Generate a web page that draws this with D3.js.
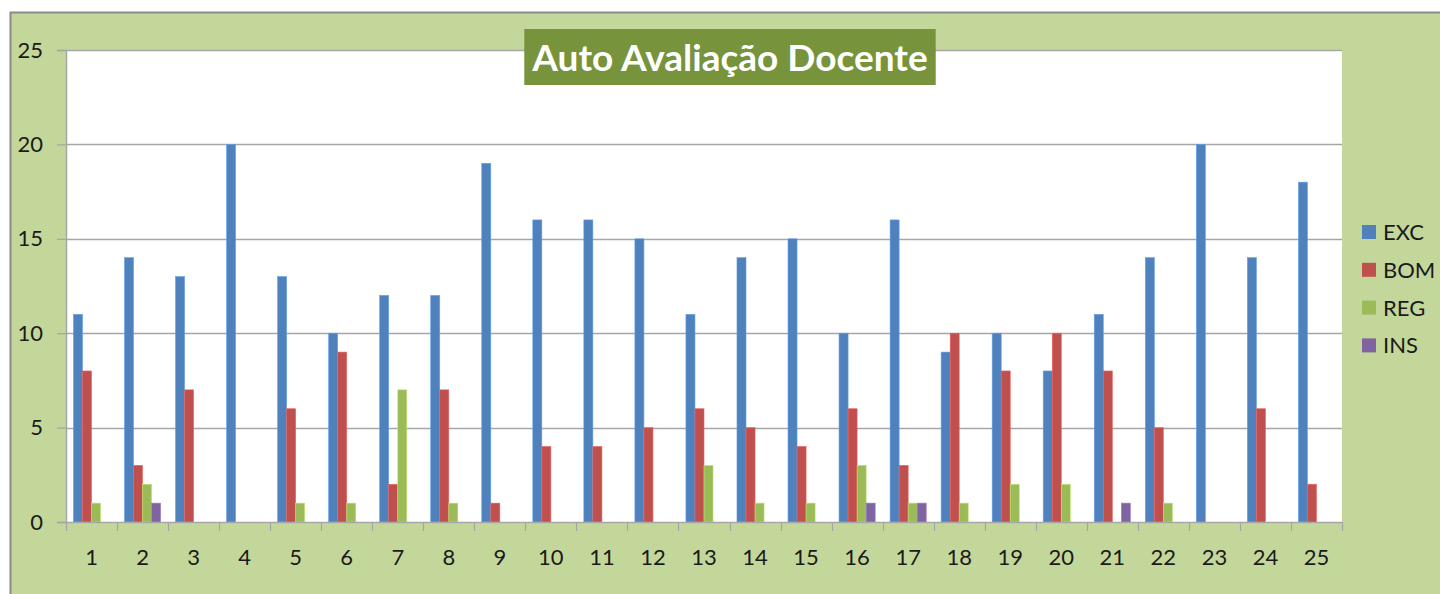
<!DOCTYPE html>
<html>
<head>
<meta charset="utf-8">
<script src="https://cdn.jsdelivr.net/npm/d3@7"></script>
<style>
  html, body { margin: 0; padding: 0; background: #fff; }
  svg { display: block; font-family: Lato, "Open Sans", sans-serif; }
</style>
</head>
<body>
<svg id="chart" width="1440" height="594"></svg>
<script>
// categories and series
const categories = d3.range(1, 26).map(String);
const seriesNames = ['EXC', 'BOM', 'REG', 'INS'];
const exc = [11, 14, 13, 20, 13, 10, 12, 12, 19, 16, 16, 15, 11, 14, 15, 10, 16, 9, 10, 8, 11, 14, 20, 14, 18];
const bom = [8, 3, 7, 0, 6, 9, 2, 7, 1, 4, 4, 5, 6, 5, 4, 6, 3, 10, 8, 10, 8, 5, 0, 6, 2];
const reg = [1, 2, 0, 0, 1, 1, 7, 1, 0, 0, 0, 0, 3, 1, 1, 3, 1, 1, 2, 2, 0, 1, 0, 0, 0];
const ins = [0, 1, 0, 0, 0, 0, 0, 0, 0, 0, 0, 0, 0, 0, 0, 1, 1, 0, 0, 0, 1, 0, 0, 0, 0];
const yTicks = [0, 5, 10, 15, 20, 25];
const title = 'Auto Avaliação Docente';

const colors = ['#4f81bd', '#c0504d', '#9bbb59', '#8064a2'];
const seriesValues = [exc, bom, reg, ins];

const svg = d3.select('#chart');
const plot = { left: 66, top: 50, right: 1342, bottom: 522 };
const labelFont = 22;

// outer chart area
svg.append('rect')
  .attr('x', 10.5).attr('y', 12.5)
  .attr('width', 1440).attr('height', 600)
  .attr('fill', '#c4d79b')
  .attr('stroke', '#8a8a8a').attr('stroke-width', 2);

svg.append('rect')
  .attr('x', plot.left).attr('y', plot.top)
  .attr('width', plot.right - plot.left).attr('height', plot.bottom - plot.top)
  .attr('fill', '#fff');

const x = d3.scaleBand()
  .domain(categories)
  .range([plot.left, plot.right]);

// 4 bars in each group, gap of about 1.6 bar widths
const gapRatio = 1.65;
const barW = x.bandwidth() / (seriesNames.length + gapRatio);
const xs = d3.scaleBand()
  .domain(seriesNames)
  .range([barW * gapRatio / 2, barW * gapRatio / 2 + barW * seriesNames.length]);

const y = d3.scaleLinear()
  .domain([0, 25])
  .range([plot.bottom, plot.top]);

// gridlines
svg.append('g')
  .selectAll('line')
  .data(yTicks.filter(d => d > 0))
  .join('line')
  .attr('x1', plot.left).attr('x2', plot.right)
  .attr('y1', d => Math.round(y(d)) + 0.5).attr('y2', d => Math.round(y(d)) + 0.5)
  .attr('stroke', '#a6a6a6').attr('stroke-width', 1.3);

// bars
const rows = categories.map((c, i) => ({
  cat: c,
  vals: seriesNames.map((s, j) => ({ s, j, v: seriesValues[j][i] }))
}));

svg.append('g')
  .selectAll('g')
  .data(rows)
  .join('g')
  .attr('transform', d => `translate(${x(d.cat)},0)`)
  .selectAll('rect')
  .data(d => d.vals.filter(v => v.v > 0))
  .join('rect')
  .attr('x', d => xs(d.s))
  .attr('width', xs.bandwidth())
  .attr('y', d => y(d.v))
  .attr('height', d => y(0) - y(d.v))
  .attr('fill', d => colors[d.j])
  .attr('stroke', d => d3.color(colors[d.j]).brighter(0.6))
  .attr('stroke-width', 0.6);

// y axis
const yAxis = d3.axisLeft(y)
  .tickValues(yTicks)
  .tickSize(9)
  .tickPadding(14);

const yg = svg.append('g')
  .attr('transform', `translate(${plot.left},0)`)
  .call(yAxis);
yg.select('.domain').attr('stroke', '#a6a6a6').attr('stroke-width', 1.5);
yg.selectAll('.tick line').attr('stroke', '#a6a6a6').attr('stroke-width', 1.3);
yg.selectAll('.tick text')
  .attr('font-size', labelFont)
  .attr('fill', '#1a1a1a')
  .attr('font-family', 'Lato, "Open Sans", sans-serif');

// x axis
const xAxis = d3.axisBottom(x).tickSize(0).tickPadding(27);
const xg = svg.append('g')
  .attr('transform', `translate(0,${plot.bottom})`)
  .call(xAxis);
xg.select('.domain').attr('stroke', '#a6a6a6').attr('stroke-width', 1.5);
xg.selectAll('.tick text')
  .attr('font-size', labelFont)
  .attr('fill', '#1a1a1a')
  .attr('font-family', 'Lato, "Open Sans", sans-serif');

// category boundary ticks
xg.append('g')
  .selectAll('line')
  .data(categories.concat(['end']))
  .join('line')
  .attr('x1', d => Math.round(d === 'end' ? plot.right : x(d)) + 0.5)
  .attr('x2', d => Math.round(d === 'end' ? plot.right : x(d)) + 0.5)
  .attr('y1', 0).attr('y2', 9)
  .attr('stroke', '#a6a6a6').attr('stroke-width', 1.3);

// title
const titleBox = { cx: 730, top: 29, h: 56 };
const titleG = svg.append('g');
const titleRect = titleG.append('rect')
  .attr('y', titleBox.top)
  .attr('height', titleBox.h)
  .attr('fill', '#77933c');
const titleText = titleG.append('text')
  .attr('x', titleBox.cx).attr('y', titleBox.top + 42)
  .attr('text-anchor', 'middle')
  .attr('font-size', 37).attr('font-weight', 'bold')
  .attr('fill', '#fff')
  .text(title);
const tw = titleText.node().getComputedTextLength();
titleRect
  .attr('x', titleBox.cx - tw / 2 - 8)
  .attr('width', tw + 16);

// legend
const legend = svg.append('g')
  .selectAll('g')
  .data(seriesNames)
  .join('g')
  .attr('transform', (d, i) => `translate(1362,${232 + i * 37.8})`);
legend.append('rect')
  .attr('x', 0).attr('y', -7)
  .attr('width', 14).attr('height', 14)
  .attr('fill', (d, i) => colors[i]);
legend.append('text')
  .attr('x', 21).attr('y', 0)
  .attr('dy', '0.36em')
  .attr('font-size', labelFont)
  .attr('fill', '#1a1a1a')
  .text(d => d);
</script>
</body>
</html>
